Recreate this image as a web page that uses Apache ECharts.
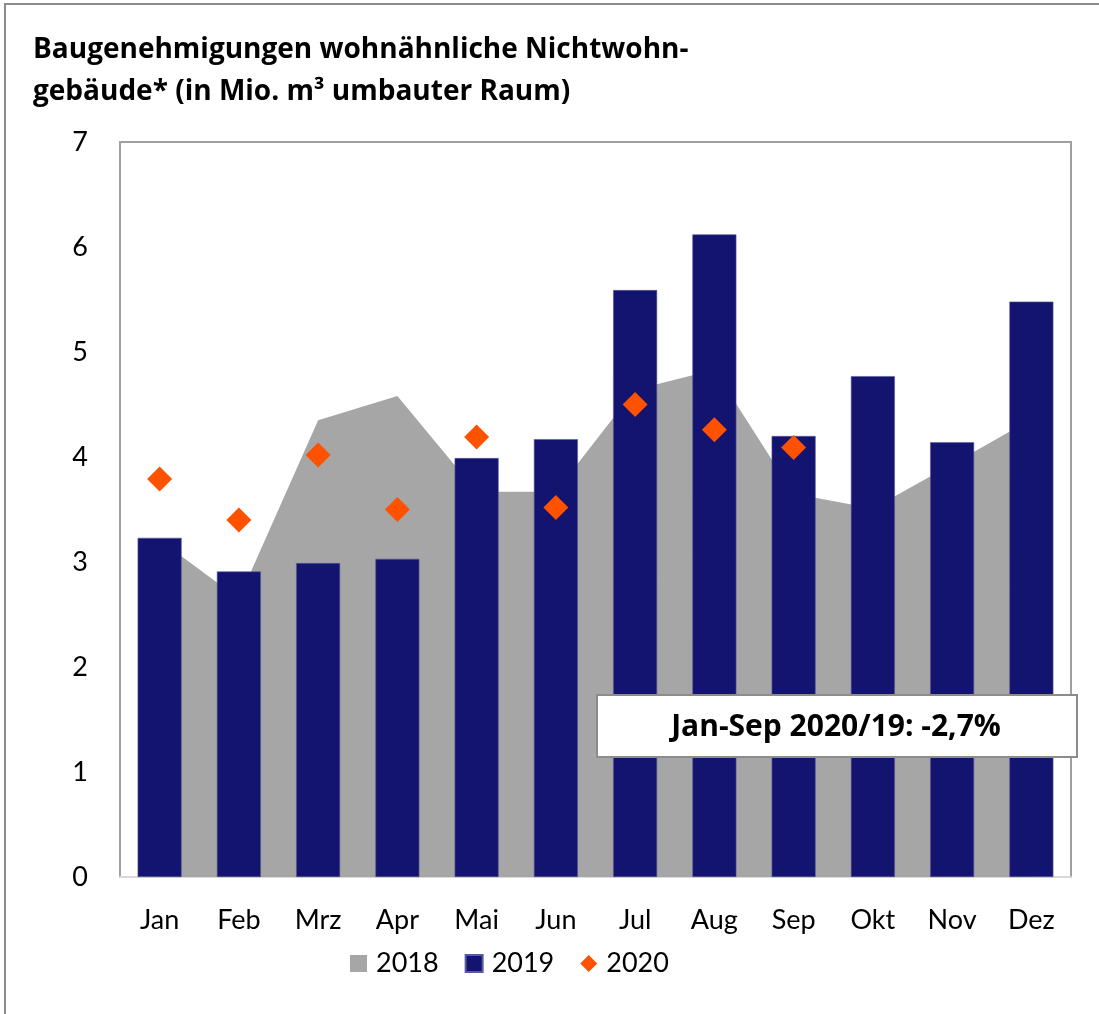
<!DOCTYPE html>
<html>
<head>
<meta charset="utf-8">
<script src="https://cdn.jsdelivr.net/npm/echarts@6/dist/echarts.min.js"></script>
<style>
  html, body { margin: 0; padding: 0; background: #fff; }
  #chart { width: 1099px; height: 1014px; }
</style>
</head>
<body>
<div id="chart"></div>
<script>
const months = ['Jan', 'Feb', 'Mrz', 'Apr', 'Mai', 'Jun', 'Jul', 'Aug', 'Sep', 'Okt', 'Nov', 'Dez'];
const values2018 = [3.21, 2.65, 4.35, 4.58, 3.67, 3.67, 4.64, 4.83, 3.65, 3.51, 3.93, 4.36];
const values2019 = [3.23, 2.91, 2.99, 3.03, 3.99, 4.17, 5.59, 6.12, 4.20, 4.77, 4.14, 5.48];
const values2020 = [3.79, 3.40, 4.02, 3.50, 4.19, 3.52, 4.50, 4.26, 4.09];
const yTicks = [0, 1, 2, 3, 4, 5, 6, 7];

const font = 'Lato, "Open Sans", sans-serif';
const boldFont = '"Open Sans", Lato, sans-serif';

const chart = echarts.init(document.getElementById('chart'));

chart.setOption({
  animation: false,
  backgroundColor: '#fff',
  textStyle: { fontFamily: font },
  title: {
    text: 'Baugenehmigungen wohnähnliche Nichtwohn-\ngebäude* (in Mio. m³ umbauter Raum)',
    left: 28,
    top: 24,
    textStyle: {
      fontFamily: boldFont,
      fontSize: 28,
      fontWeight: 'bold',
      color: '#000',
      lineHeight: 42
    }
  },
  grid: {
    left: 120,
    right: 28,
    top: 142,
    bottom: 137,
    show: true,
    borderColor: '#a0a0a0',
    borderWidth: 2,
    backgroundColor: '#fff'
  },
  legend: {
    bottom: 32,
    left: 345,
    itemGap: 26,
    itemWidth: 17,
    itemHeight: 17,
    textStyle: { fontFamily: font, fontSize: 27, color: '#000', padding: [0, 0, 0, 4] },
    data: [
      { name: '2018', icon: 'rect' },
      { name: '2019', icon: 'rect' },
      { name: '2020', icon: 'diamond' }
    ]
  },
  xAxis: {
    type: 'category',
    data: months,
    boundaryGap: true,
    axisLine: { show: true, lineStyle: { color: '#d9d9d9', width: 2 } },
    axisTick: { show: false },
    axisLabel: { fontFamily: font, fontSize: 27, color: '#000', margin: 30 }
  },
  yAxis: {
    type: 'value',
    min: yTicks[0],
    max: yTicks[yTicks.length - 1],
    interval: 1,
    axisLine: { show: false },
    axisTick: { show: false },
    splitLine: { show: false },
    axisLabel: { fontFamily: font, fontSize: 27, color: '#000', margin: 32 }
  },
  series: [
    {
      name: '2018',
      type: 'line',
      data: values2018,
      symbol: 'none',
      lineStyle: { width: 0, color: '#a6a6a6' },
      itemStyle: { color: '#a6a6a6' },
      areaStyle: { color: '#a6a6a6', opacity: 1 },
      z: 1
    },
    {
      name: '2019',
      type: 'bar',
      data: values2019,
      barWidth: 44,
      itemStyle: { color: '#131370', borderColor: '#5a5a98', borderWidth: 0.6 },
      z: 2
    },
    {
      name: '2020',
      type: 'scatter',
      data: values2020,
      symbol: 'diamond',
      symbolSize: 25,
      itemStyle: { color: '#ff5200', opacity: 1 },
      z: 3
    }
  ],
  graphic: [
    {
      type: 'rect',
      shape: { x: 5, y: 4, width: 1200, height: 1100 },
      style: { fill: 'none', stroke: '#8c8c8c', lineWidth: 2 },
      silent: true,
      z: 0
    },
    {
      type: 'rect',
      shape: { x: 597, y: 695, width: 480, height: 62 },
      style: { fill: '#fff', stroke: '#8c8c8c', lineWidth: 2 },
      z: 100
    },
    {
      type: 'text',
      x: 836,
      y: 727,
      z: 101,
      style: {
        text: 'Jan-Sep 2020/19: -2,7%',
        fontFamily: boldFont,
        fontSize: 30,
        fontWeight: 'bold',
        fill: '#000',
        align: 'center',
        verticalAlign: 'middle'
      }
    }
  ]
});
</script>
</body>
</html>
